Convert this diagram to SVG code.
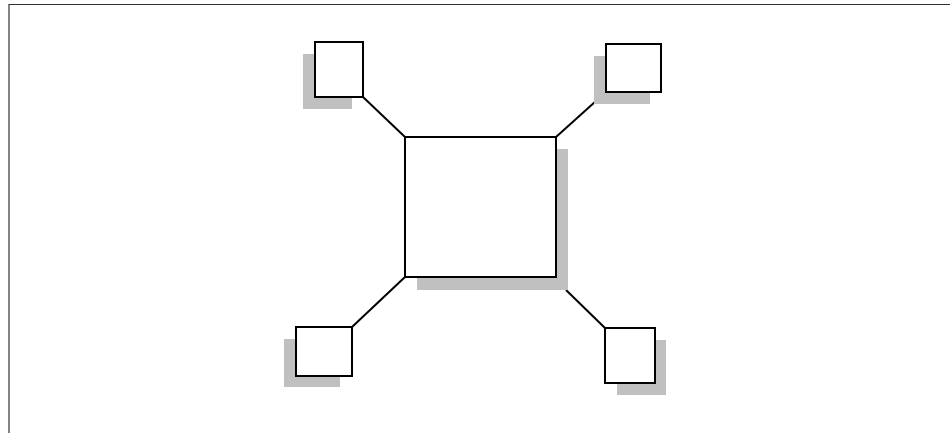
<svg xmlns="http://www.w3.org/2000/svg" width="950" height="433" viewBox="0 0 950 433">
<style>
.shadow{fill:#c0c0c0;stroke:none}
.box{fill:#fff;stroke:#000;stroke-width:2}
.conn{stroke:#000;stroke-width:2;fill:none}
.frame{stroke:#333;stroke-width:1.2;fill:none}
</style>
<rect width="950" height="433" fill="#fff"/>
<path class="frame" d="M9 433 V4.5 H950"/>
<g id="connectors">
<line class="conn" x1="363" y1="97" x2="405" y2="137"/>
<line class="conn" x1="606" y1="92" x2="556" y2="137"/>
<line class="conn" x1="352" y1="327" x2="405" y2="277"/>
<line class="conn" x1="566" y1="290" x2="605" y2="328"/>
</g>
<g id="center">
<rect class="shadow" x="417" y="149" width="151" height="141"/>
<rect class="box" x="405" y="137" width="151" height="140"/>
</g>
<g id="top-left">
<rect class="shadow" x="303" y="54" width="49" height="55"/>
<rect class="box" x="315" y="42" width="48" height="55"/>
</g>
<g id="top-right">
<rect class="shadow" x="594" y="56" width="56" height="48"/>
<rect class="box" x="606" y="44" width="55" height="48"/>
</g>
<g id="bottom-left">
<rect class="shadow" x="284" y="339" width="56" height="48"/>
<rect class="box" x="296" y="327" width="56" height="49"/>
</g>
<g id="bottom-right">
<rect class="shadow" x="617" y="340" width="49" height="55"/>
<rect class="box" x="605" y="328" width="50" height="55"/>
</g>
</svg>
